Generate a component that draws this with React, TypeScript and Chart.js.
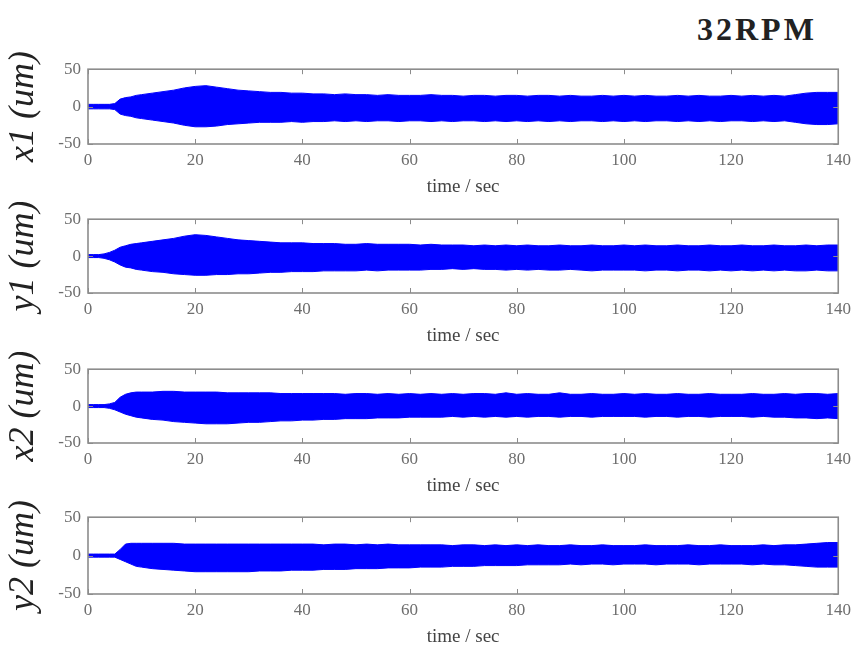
import React, { useEffect, useRef } from "react";
import { Chart, registerables } from "chart.js";

Chart.register(...registerables);

// time axis (seconds)
const times = [0, 1, 2, 3, 4, 5, 6, 7, 8, 9, 10,
  12, 14, 16, 18, 20, 22, 24, 26, 28, 30, 32, 34, 36, 38, 40,
  42, 44, 46, 48, 50, 52, 54, 56, 58, 60,
  62, 64, 66, 68, 70, 72, 74, 76, 78, 80,
  82, 84, 86, 88, 90, 92, 94, 96, 98, 100,
  102, 104, 106, 108, 110, 112, 114, 116, 118, 120,
  122, 124, 126, 128, 130, 132, 134, 136, 138, 140];

const xTicks = [0, 20, 40, 60, 80, 100, 120, 140];
const yTicks = [-50, 0, 50];

// x1 envelope (um)
const x1Upper = [3, 3, 3, 3, 3, 4, 10, 12, 13, 15, 16,
  18, 20, 22, 25, 27, 28, 26, 24, 22, 21, 20, 19, 19, 18, 18,
  17, 17, 16, 17, 16, 16, 15, 16, 15, 15,
  15, 16, 15, 15, 14, 15, 15, 14, 15, 15,
  14, 15, 15, 14, 15, 14, 14, 15, 14, 15,
  14, 15, 14, 14, 15, 14, 15, 14, 14, 15,
  14, 15, 14, 15, 14, 16, 18, 19, 19, 19];
const x1Lower = [-3, -3, -3, -3, -3, -4, -10, -12, -13, -15, -16,
  -18, -20, -22, -25, -27, -27, -26, -24, -23, -22, -21, -21, -21, -20, -21,
  -20, -20, -19, -20, -19, -20, -19, -19, -20, -19,
  -19, -20, -19, -20, -19, -19, -20, -19, -20, -19,
  -20, -19, -20, -19, -20, -19, -19, -20, -19, -20,
  -19, -20, -19, -19, -20, -19, -20, -19, -20, -19,
  -19, -20, -19, -20, -19, -21, -23, -24, -24, -23];

// y1 envelope (um)
const y1Upper = [2, 2, 2, 3, 5, 8, 12, 14, 16, 17, 18,
  20, 22, 24, 27, 29, 28, 26, 24, 22, 21, 20, 19, 18, 18, 18,
  17, 17, 17, 16, 16, 17, 16, 16, 16, 16,
  15, 16, 15, 15, 15, 14, 15, 14, 15, 14,
  15, 14, 14, 15, 14, 14, 15, 14, 14, 15,
  14, 15, 14, 14, 15, 14, 14, 15, 14, 14,
  15, 14, 14, 15, 14, 14, 15, 14, 15, 15];
const y1Lower = [-2, -2, -2, -3, -5, -8, -12, -15, -16, -18, -19,
  -21, -22, -24, -25, -26, -26, -25, -25, -24, -24, -23, -22, -22, -21, -21,
  -21, -20, -20, -20, -20, -19, -20, -19, -19, -19,
  -19, -18, -18, -17, -18, -17, -18, -18, -19, -18,
  -19, -18, -19, -19, -18, -19, -20, -19, -19, -19,
  -19, -20, -19, -19, -20, -19, -19, -20, -19, -20,
  -19, -20, -19, -20, -19, -20, -20, -19, -20, -20];

// x2 envelope (um)
const x2Upper = [2, 2, 2, 2, 3, 5, 12, 16, 18, 19, 19,
  19, 20, 20, 19, 19, 19, 19, 18, 18, 18, 18, 18, 17, 17, 17,
  17, 17, 17, 16, 17, 17, 16, 17, 16, 17,
  16, 17, 16, 17, 16, 17, 17, 16, 18, 16,
  17, 16, 16, 18, 16, 16, 17, 16, 16, 17,
  16, 17, 16, 16, 17, 16, 16, 17, 16, 16,
  16, 17, 16, 16, 17, 16, 17, 17, 16, 17];
const x2Lower = [-2, -2, -2, -2, -3, -5, -8, -11, -13, -15, -16,
  -18, -19, -21, -22, -23, -24, -24, -24, -23, -22, -22, -21, -20, -20, -19,
  -19, -18, -18, -17, -17, -17, -16, -16, -16, -15,
  -15, -15, -15, -14, -15, -14, -15, -14, -15, -14,
  -15, -14, -14, -15, -14, -14, -15, -14, -14, -14,
  -14, -15, -14, -14, -15, -14, -14, -15, -14, -14,
  -14, -15, -14, -15, -15, -16, -16, -17, -16, -17];

// y2 envelope (um)
const y2Upper = [2, 2, 2, 2, 2, 2, 8, 15, 16, 16, 16,
  16, 16, 16, 15, 15, 15, 15, 15, 15, 15, 15, 15, 15, 15, 15,
  15, 14, 15, 15, 14, 15, 14, 15, 14, 14,
  14, 14, 14, 13, 14, 14, 13, 14, 13, 14,
  13, 14, 13, 13, 14, 13, 13, 14, 13, 13,
  13, 14, 13, 13, 13, 14, 13, 13, 14, 13,
  13, 13, 14, 13, 14, 14, 15, 16, 17, 17];
const y2Lower = [-2, -2, -2, -2, -2, -2, -5, -8, -11, -14, -15,
  -17, -18, -19, -20, -21, -21, -21, -21, -21, -21, -20, -20, -20, -19, -19,
  -19, -18, -18, -18, -17, -17, -17, -16, -16, -16,
  -15, -15, -15, -14, -14, -14, -13, -13, -13, -13,
  -12, -12, -12, -12, -11, -12, -11, -11, -12, -11,
  -11, -11, -12, -11, -11, -11, -12, -11, -11, -11,
  -11, -12, -11, -12, -12, -13, -14, -15, -15, -15];

const yLabels = ["x1 (um)", "y1 (um)", "x2 (um)", "y2 (um)"];
const xTitle = "time / sec";
const figTitle = "32RPM";

const panels = [
  { upper: x1Upper, lower: x1Lower, label: yLabels[0], top: 52, plotH: 78 },
  { upper: y1Upper, lower: y1Lower, label: yLabels[1], top: 202, plotH: 77 },
  { upper: x2Upper, lower: x2Lower, label: yLabels[2], top: 352, plotH: 77 },
  { upper: y2Upper, lower: y2Lower, label: yLabels[3], top: 500, plotH: 80 },
];

const PAD_TOP = 14;
const X_AXIS_H = 54;
const Y_AXIS_W = 88;
const PAD_RIGHT = 18;
const BLUE = "#0000ff";
const SERIF = "'Liberation Serif', 'DejaVu Serif', serif";

const framePlugin = {
  id: "matlabFrame",
  afterDatasetsDraw(chart: any) {
    const { ctx, chartArea: a, scales } = chart;
    ctx.save();
    ctx.strokeStyle = "#8c8c8c";
    ctx.lineWidth = 1;
    const xs = scales.x;
    const ys = scales.y;
    xs.ticks.forEach((t: any) => {
      const px = Math.round(xs.getPixelForValue(t.value)) + 0.5;
      ctx.beginPath();
      ctx.moveTo(px, a.bottom);
      ctx.lineTo(px, a.bottom - 5);
      ctx.moveTo(px, a.top);
      ctx.lineTo(px, a.top + 5);
      ctx.stroke();
    });
    ys.ticks.forEach((t: any) => {
      const py = Math.round(ys.getPixelForValue(t.value)) + 0.5;
      ctx.beginPath();
      ctx.moveTo(a.left, py);
      ctx.lineTo(a.left + 5, py);
      ctx.moveTo(a.right, py);
      ctx.lineTo(a.right - 5, py);
      ctx.stroke();
    });
    ctx.lineWidth = 1.6;
    ctx.strokeRect(a.left, a.top, a.right - a.left, a.bottom - a.top);
    ctx.restore();
  },
};

function Panel({ upper, lower, label, top, plotH }: any) {
  const ref = useRef<HTMLCanvasElement | null>(null);
  useEffect(() => {
    if (!ref.current) return;
    const chart = new Chart(ref.current, {
      type: "line",
      data: {
        datasets: [
          {
            data: times.map((t, i) => ({ x: t, y: upper[i] })),
            borderColor: BLUE,
            backgroundColor: BLUE,
            borderWidth: 1,
            pointRadius: 0,
            fill: "+1",
            tension: 0,
          },
          {
            data: times.map((t, i) => ({ x: t, y: lower[i] })),
            borderColor: BLUE,
            backgroundColor: BLUE,
            borderWidth: 1,
            pointRadius: 0,
            fill: false,
            tension: 0,
          },
        ],
      },
      options: {
        animation: false,
        responsive: false,
        maintainAspectRatio: false,
        layout: { padding: { top: PAD_TOP, right: PAD_RIGHT, bottom: 0, left: 0 } },
        plugins: { legend: { display: false }, tooltip: { enabled: false } },
        scales: {
          x: {
            type: "linear",
            min: 0,
            max: 140,
            afterBuildTicks: (s: any) => {
              s.ticks = xTicks.map((v) => ({ value: v }));
            },
            afterFit: (s: any) => {
              s.height = X_AXIS_H;
            },
            grid: { display: false, drawTicks: false },
            border: { display: false },
            ticks: {
              autoSkip: false,
              maxRotation: 0,
              padding: 6,
              color: "#6e6e6e",
              font: { family: SERIF, size: 17 },
            },
            title: {
              display: true,
              text: xTitle,
              color: "#444",
              padding: 0,
              font: { family: SERIF, size: 19 },
            },
          },
          y: {
            type: "linear",
            min: -50,
            max: 50,
            afterBuildTicks: (s: any) => {
              s.ticks = yTicks.map((v) => ({ value: v }));
            },
            afterFit: (s: any) => {
              s.width = Y_AXIS_W;
            },
            grid: { display: false, drawTicks: false },
            border: { display: false },
            ticks: {
              padding: 7,
              color: "#6e6e6e",
              font: { family: SERIF, size: 17 },
            },
            title: {
              display: true,
              text: label,
              color: "#222",
              padding: { top: 2, bottom: 0 },
              font: { family: SERIF, size: 36, style: "italic" },
            },
          },
        },
      },
      plugins: [framePlugin],
    } as any);
    return () => chart.destroy();
  }, [upper, lower, label]);

  const h = PAD_TOP + plotH + X_AXIS_H;
  return (
    <canvas
      ref={ref}
      width={857}
      height={h}
      style={{ position: "absolute", left: 0, top, width: 857, height: h }}
    />
  );
}

export default function App() {
  return (
    <div style={{ position: "absolute", left: 0, top: 0, width: 857, height: 647, background: "#fff", overflow: "hidden" }}>
      <div
        style={{
          position: "absolute",
          left: 697,
          top: 13,
          fontFamily: "'Liberation Serif', serif",
          fontWeight: "bold",
          fontSize: 32,
          lineHeight: "32px",
          letterSpacing: 3,
          color: "#222",
          whiteSpace: "nowrap",
        }}
      >
        {figTitle}
      </div>
      {panels.map((p, i) => (
        <Panel key={i} {...p} />
      ))}
    </div>
  );
}
